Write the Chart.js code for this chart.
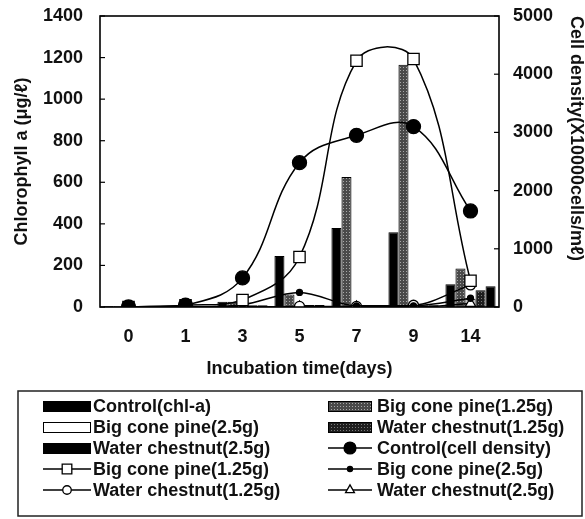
<!DOCTYPE html>
<html>
<head>
<meta charset="utf-8">
<script src="https://cdn.jsdelivr.net/npm/chart.js@4.4.1/dist/chart.umd.min.js"></script>
<style>
  html, body { margin: 0; padding: 0; background: #fff; }
  canvas { display: block; }
</style>
</head>
<body>
<canvas id="c" width="585" height="519"></canvas>
<script>
// ---- data ----
const categories = ['0', '1', '3', '5', '7', '9', '14'];
// chlorophyll a (ug/L) bars
const chlControl = [5, 5, 25, 245, 380, 360, 110];
const chlBcp125  = [5, 5, 25, 60, 625, 1165, 185];
const chlBcp25   = [2, 2, 8, 12, 8, 8, 40];
const chlWc125   = [2, 2, 8, 10, 8, 8, 80];
const chlWc25    = [2, 2, 8, 10, 8, 8, 100];
// cell density (x10000 cells/mL) lines
const cdControl = [0, 30, 500, 2480, 2950, 3100, 1650];
const cdBcp125  = [0, 30, 120, 860, 4230, 4260, 450];
const cdBcp25   = [0, 0, 40, 250, 20, 20, 150];
const cdWc125   = [0, 0, 0, 10, 10, 30, 380];
const cdWc25    = [0, 0, 0, 0, 0, 0, 60];
const leftTicks = [0, 200, 400, 600, 800, 1000, 1200, 1400];
const rightTicks = [0, 1000, 2000, 3000, 4000, 5000];

const FONT = '"Liberation Sans", Arial, Helvetica, sans-serif';
const TXT = '#111';
const F = { family: FONT, size: 18, weight: 'bold' };

function makePattern(base, dot) {
  const p = document.createElement('canvas');
  p.width = 3; p.height = 3;
  const g = p.getContext('2d');
  g.fillStyle = base; g.fillRect(0, 0, 3, 3);
  g.fillStyle = dot; g.fillRect(1, 1, 1, 1);
  return document.getElementById('c').getContext('2d').createPattern(p, 'repeat');
}
const patBcp = makePattern('#4a4a4a', '#a8a8a8');
const patWc = makePattern('#1e1e1e', '#7a7a7a');

const barBase = { type: 'bar', yAxisID: 'y', borderColor: '#000', borderWidth: 1, order: 2,
  categoryPercentage: 0.88, barPercentage: 1.0 };
const lineBase = { type: 'line', yAxisID: 'y1', borderColor: '#000', borderWidth: 1.5,
  pointBorderColor: '#000', pointBorderWidth: 1.3, order: 1, tension: 0.4, fill: false };

const datasets = [
  Object.assign({}, barBase, { label: 'Control(chl-a)', data: chlControl, backgroundColor: '#000' }),
  Object.assign({}, barBase, { label: 'Big cone pine(1.25g)', data: chlBcp125, backgroundColor: patBcp }),
  Object.assign({}, barBase, { label: 'Big cone pine(2.5g)', data: chlBcp25, backgroundColor: '#fff' }),
  Object.assign({}, barBase, { label: 'Water chestnut(1.25g)', data: chlWc125, backgroundColor: patWc }),
  Object.assign({}, barBase, { label: 'Water chestnut(2.5g)', data: chlWc25, backgroundColor: '#000' }),
  Object.assign({}, lineBase, { label: 'Control(cell density)', data: cdControl,
    pointStyle: 'circle', pointRadius: 7, pointBackgroundColor: '#000' }),
  Object.assign({}, lineBase, { label: 'Big cone pine(1.25g)', data: cdBcp125,
    pointStyle: 'rect', pointRadius: 8, pointBackgroundColor: '#fff' }),
  Object.assign({}, lineBase, { label: 'Big cone pine(2.5g)', data: cdBcp25, cubicInterpolationMode: 'monotone',
    pointStyle: 'circle', pointRadius: 3, pointBackgroundColor: '#000' }),
  Object.assign({}, lineBase, { label: 'Water chestnut(1.25g)', data: cdWc125, cubicInterpolationMode: 'monotone',
    pointStyle: 'circle', pointRadius: 5, pointBackgroundColor: '#fff' }),
  Object.assign({}, lineBase, { label: 'Water chestnut(2.5g)', data: cdWc25, cubicInterpolationMode: 'monotone',
    pointStyle: 'triangle', pointRadius: 6, pointBackgroundColor: '#fff' })
];

const framePlugin = {
  id: 'frame',
  afterDraw(chart) {
    const ctx = chart.ctx, a = chart.chartArea;
    ctx.save();
    ctx.strokeStyle = '#000';
    ctx.lineWidth = 1.6;
    ctx.strokeRect(a.left, a.top, a.right - a.left, a.bottom - a.top);
    ctx.lineWidth = 1.2;
    const y = chart.scales.y, y1 = chart.scales.y1;
    y.ticks.forEach(t => {
      const py = y.getPixelForValue(t.value);
      ctx.beginPath(); ctx.moveTo(a.left, py); ctx.lineTo(a.left + 5, py); ctx.stroke();
    });
    y1.ticks.forEach(t => {
      const py = y1.getPixelForValue(t.value);
      ctx.beginPath(); ctx.moveTo(a.right, py); ctx.lineTo(a.right - 5, py); ctx.stroke();
    });
    ctx.restore();
  }
};

const legendPlugin = {
  id: 'customLegend',
  afterDraw(chart) {
    const ctx = chart.ctx;
    const ds = chart.data.datasets;
    ctx.save();
    ctx.strokeStyle = '#222';
    ctx.lineWidth = 1.5;
    ctx.strokeRect(18, 391, 564, 125);
    ctx.font = 'bold 18px ' + FONT;
    ctx.textBaseline = 'middle';
    ctx.textAlign = 'left';
    const cols = [{ ix: 43, iw: 48, tx: 93 }, { ix: 328, iw: 44, tx: 377 }];
    ds.forEach((d, i) => {
      const row = Math.floor(i / 2), col = cols[i % 2];
      const cy = 406 + row * 21;
      if (d.type === 'bar') {
        ctx.fillStyle = d.backgroundColor;
        ctx.fillRect(col.ix, cy - 5, col.iw, 11);
        ctx.strokeStyle = '#000'; ctx.lineWidth = 1;
        ctx.strokeRect(col.ix + 0.5, cy - 4.5, col.iw - 1, 10);
      } else {
        ctx.strokeStyle = '#000'; ctx.lineWidth = 1.5;
        ctx.beginPath(); ctx.moveTo(col.ix, cy); ctx.lineTo(col.ix + col.iw, cy); ctx.stroke();
        ctx.fillStyle = d.pointBackgroundColor; ctx.lineWidth = 1.3;
        Chart.helpers.drawPoint(ctx, { pointStyle: d.pointStyle, radius: d.pointRadius * 0.85, rotation: 0, borderWidth: 1.3 },
          col.ix + col.iw / 2, cy);
      }
      ctx.fillStyle = TXT;
      ctx.fillText(d.label, col.tx, cy + 1);
    });
    ctx.restore();
  }
};

const plainTick = v => String(v);
function noPad(s) { s.paddingTop = 0; s.paddingBottom = 0; s.paddingLeft = 0; s.paddingRight = 0; }

new Chart(document.getElementById('c'), {
  type: 'bar',
  data: { labels: categories, datasets: datasets },
  options: {
    responsive: false,
    animation: false,
    devicePixelRatio: 1,
    layout: { padding: { top: 16, left: 0, right: 0, bottom: 139 } },
    plugins: { legend: { display: false }, tooltip: { enabled: false } },
    scales: {
      x: {
        type: 'category', offset: true,
        grid: { display: false, drawTicks: false }, border: { display: false },
        ticks: { color: TXT, font: F, padding: 19, maxRotation: 0 },
        title: { display: true, text: 'Incubation time(days)', color: TXT,
          font: F, padding: { top: 0, bottom: 0 } },
        afterFit(s) { s.height = 73; noPad(s); }
      },
      y: {
        position: 'left', min: 0, max: 1400,
        grid: { display: false, drawTicks: false }, border: { display: false },
        afterBuildTicks(s) { s.ticks = leftTicks.map(v => ({ value: v })); },
        ticks: { color: TXT, font: F, padding: 17, callback: plainTick },
        title: { display: true, text: 'Chlorophyll a (μg/ℓ)', color: TXT,
          font: F, padding: { top: 11, bottom: 0 } },
        afterFit(s) { s.width = 100; noPad(s); }
      },
      y1: {
        position: 'right', min: 0, max: 5000,
        grid: { display: false, drawTicks: false }, border: { display: false },
        afterBuildTicks(s) { s.ticks = rightTicks.map(v => ({ value: v })); },
        ticks: { color: TXT, font: F, padding: 14, callback: plainTick },
        title: { display: true, text: 'Cell density(X10000cells/mℓ)', color: TXT, align: 'end',
          font: { family: FONT, size: 18, weight: 'bold', lineHeight: 1 }, padding: { top: 0, bottom: 0 } },
        afterFit(s) { s.width = 86; noPad(s); }
      }
    }
  },
  plugins: [framePlugin, legendPlugin]
});
</script>
</body>
</html>
